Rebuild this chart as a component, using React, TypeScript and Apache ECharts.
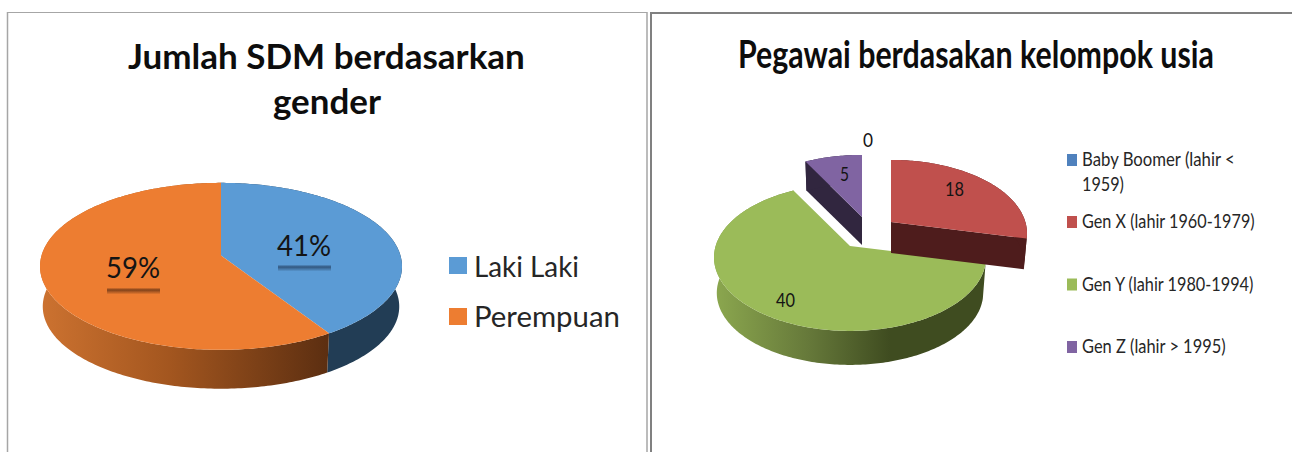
import React, { useEffect, useRef } from "react";
import * as echarts from "echarts";

const genderCategories = ["Laki Laki", "Perempuan"];
const genderValues = [41, 59];
const genderLabels = ["41%", "59%"];

const ageCategories = ["Baby Boomer (lahir < 1959)", "Gen X (lahir 1960-1979)", "Gen Y (lahir 1980-1994)", "Gen Z (lahir > 1995)"];
const ageValues = [0, 18, 40, 5];

const titleLeftLines = ["Jumlah SDM berdasarkan", "gender"];
const titleRight = "Pegawai berdasakan kelompok usia";

const FONT = "Lato";
const measureCtx = document.createElement("canvas").getContext("2d") as CanvasRenderingContext2D;
function fitScale(text: string, font: string, width: number) {
  measureCtx.font = font;
  return width / measureCtx.measureText(text).width;
}
function fittedText(text: string, left: number, cy: number, width: number, size: number, weight: string, fill: string) {
  const font = `${weight} ${size}px ${FONT}`;
  return {
    type: "text", x: left, y: cy, scaleX: fitScale(text, font, width), silent: true,
    style: { text, font, fill, align: "left", verticalAlign: "middle" },
  };
}

type SliceStyle = {
  apex: [number, number]; top: any; wall: any; depth: number; cutWalls: boolean;
  label?: { text: string; left: number; cy: number; width: number; size: number; shadow?: { y: number; color: string } };
};
type PieGeom = { rx: number; ry: number; k: number; floor: number };

function project(g: PieGeom, theta: number, f = 1): [number, number] {
  const s = Math.sin(theta) * f, c = -Math.cos(theta) * f;
  const den = 1 - g.k * c;
  return [(g.rx * Math.sqrt(1 - g.k * g.k) * s) / den, (g.ry * (1 - g.k * g.k) * c) / den];
}

function sliceChildren(g: PieGeom, a0: number, a1: number, st: SliceStyle) {
  const out: any[] = [];
  const [ax, ay] = st.apex;
  const n = Math.max(2, Math.ceil((a1 - a0) * 60));
  const arc: [number, number][] = [];
  const low: [number, number][] = [];
  for (let i = 0; i <= n; i++) {
    const t = a0 + ((a1 - a0) * i) / n;
    const p = project(g, t);
    arc.push([ax + p[0], ay + p[1]]);
    const q = project(g, t, g.floor);
    low.push([ax + q[0], ay + st.depth + q[1]]);
  }
  if (st.cutWalls) {
    [0, arc.length - 1].forEach((k) => {
      out.push({ type: "polygon", silent: true, shape: { points: [[ax, ay], arc[k], low[k], [ax, ay + st.depth]] }, style: { fill: st.wall } });
    });
  }
  const wallPts = arc.concat(low.slice().reverse());
  out.push({ type: "polygon", silent: true, shape: { points: wallPts }, style: { fill: st.wall } });
  out.push({ type: "polygon", silent: true, shape: { points: [[ax, ay] as [number, number]].concat(arc) }, style: { fill: st.top } });
  return out;
}

function pieSeries(values: number[], g: PieGeom, styles: SliceStyle[], order: number[]) {
  const total = values.reduce((a, b) => a + b, 0);
  const cum: number[] = [0];
  values.forEach((v, i) => cum.push(cum[i] + v));
  return {
    type: "custom", coordinateSystem: "none", silent: true, clip: false,
    data: order.map((i) => [i, values[i]]),
    renderItem: (_p: any, api: any) => {
      const i = api.value(0);
      const a0 = (cum[i] / total) * Math.PI * 2, a1 = (cum[i + 1] / total) * Math.PI * 2;
      const st = styles[i];
      const children: any[] = values[i] > 0 ? sliceChildren(g, a0, a1, st) : [];
      if (st.label) {
        const l = st.label;
        if (l.shadow) {
          const c = l.shadow.color;
          children.push({
            type: "rect", silent: true,
            shape: { x: l.left + 1, y: l.shadow.y - 3.5, width: l.width - 1, height: 7 },
            style: {
              fill: {
                type: "linear", x: 0, y: 0, x2: 0, y2: 1,
                colorStops: [
                  { offset: 0, color: `rgba(${c},0)` },
                  { offset: 0.35, color: `rgba(${c},0.8)` },
                  { offset: 1, color: `rgba(${c},0)` },
                ],
              },
            },
          });
        }
        children.push(fittedText(l.text, l.left, l.cy, l.width, l.size, "normal", "#141414"));
      }
      return { type: "group", children };
    },
  };
}

const hGrad = (x: number, x2: number, stops: [number, string][]) => ({
  type: "linear", x, y: 0, x2, y2: 0, global: true,
  colorStops: stops.map(([offset, color]) => ({ offset, color })),
});

export default function App() {
  const ref = useRef<HTMLDivElement>(null);
  useEffect(() => {
    const chart = echarts.init(ref.current as HTMLDivElement, undefined, { renderer: "svg" });
    const leftGeom: PieGeom = { rx: 181, ry: 83.5, k: 0.13, floor: 0.985 };
    const leftApex: [number, number] = [221, 255.5];
    const leftStyles: SliceStyle[] = [
      { apex: leftApex, top: "#5b9bd5", wall: "#223d55", depth: 40.5, cutWalls: false,
        label: { text: genderLabels[0], left: 277, cy: 245, width: 54, size: 29, shadow: { y: 268, color: "40,70,105" } } },
      { apex: leftApex, top: "#ed7d31", wall: hGrad(42, 326, [[0, "#cc7230"], [0.45, "#a3561f"], [1, "#5d2f11"]]), depth: 40.5, cutWalls: false,
        label: { text: genderLabels[1], left: 106, cy: 267, width: 54, size: 29, shadow: { y: 291, color: "100,50,20" } } },
    ];
    const rightGeom: PieGeom = { rx: 136, ry: 73.5, k: 0.155, floor: 0.98 };
    const rightStyles: SliceStyle[] = [
      { apex: [868, 222], top: "#4f81bd", wall: "#24394f", depth: 30, cutWalls: false,
        label: { text: String(ageValues[0]), left: 863, cy: 140, width: 10, size: 20 } },
      { apex: [891, 222], top: "#c0504d", wall: "#4e1c1c", depth: 31, cutWalls: true,
        label: { text: String(ageValues[1]), left: 945, cy: 188, width: 19, size: 20 } },
      { apex: [850, 246], top: "#9bbb59", wall: hGrad(713, 985, [[0, "#8ca84f"], [0.35, "#66793a"], [0.65, "#3f4c20"], [1, "#3f4c20"]]), depth: 36, cutWalls: false,
        label: { text: String(ageValues[2]), left: 776, cy: 299, width: 19, size: 20 } },
      { apex: [862, 217], top: "#8064a2", wall: "#31263f", depth: 28, cutWalls: true,
        label: { text: String(ageValues[3]), left: 840, cy: 173, width: 9, size: 20 } },
    ];

    const txt = "#262626";
    const legendLeftRows = [{ y: 265.5, w: 105 }, { y: 316.5, w: 146 }];
    const legendRightSwatch = [160, 222, 284.5, 347];
    const ageLegendLines: { t: string; y: number; w: number }[] = [
      { t: "Baby Boomer (lahir <", y: 159, w: 154 },
      { t: "1959)", y: 184, w: 42 },
      { t: ageCategories[1], y: 221, w: 173 },
      { t: ageCategories[2], y: 284, w: 173 },
      { t: ageCategories[3], y: 346, w: 144 },
    ];
    const border = (x1: number, y1: number, x2: number, y2: number, stroke: string, lineWidth: number) => ({
      type: "line", silent: true, shape: { x1, y1, x2, y2 }, style: { stroke, lineWidth },
    });

    chart.setOption({
      animation: false,
      backgroundColor: "#ffffff",
      series: [
        pieSeries(genderValues, leftGeom, leftStyles, [0, 1]),
        pieSeries(ageValues, rightGeom, rightStyles, [3, 2, 1, 0]),
      ],
      graphic: {
        elements: [
          border(7.5, 12.5, 647, 12.5, "#a6a6a6", 1),
          border(7.5, 12, 7.5, 452, "#a6a6a6", 1.5),
          border(647, 12, 647, 452, "#a6a6a6", 1.5),
          border(651, 13, 1292, 13, "#808080", 2),
          border(651, 12, 651, 452, "#808080", 2),
          fittedText(titleLeftLines[0], 128, 55, 397, 35, "bold", "#0d0d0d"),
          fittedText(titleLeftLines[1], 273, 100, 108, 35, "bold", "#0d0d0d"),
          fittedText(titleRight, 738, 53, 476, 38, "bold", "#0d0d0d"),
          ...genderCategories.flatMap((c, i) => [
            { type: "rect", silent: true, shape: { x: 449, y: legendLeftRows[i].y - 8.5, width: 18, height: 17 }, style: { fill: leftStyles[i].top } },
            fittedText(c, 474, legendLeftRows[i].y, legendLeftRows[i].w, 28, "normal", txt),
          ]),
          ...ageCategories.map((_c, i) => ({
            type: "rect", silent: true, shape: { x: 1067, y: legendRightSwatch[i] - 6, width: 10, height: 12 }, style: { fill: rightStyles[i].top },
          })),
          ...ageLegendLines.map((l) => fittedText(l.t, 1082, l.y, l.w, 19, "normal", txt)),
        ],
      },
    });
    return () => chart.dispose();
  }, []);
  return <div ref={ref} style={{ position: "absolute", left: 0, top: 0, width: 1292, height: 452 }} />;
}
